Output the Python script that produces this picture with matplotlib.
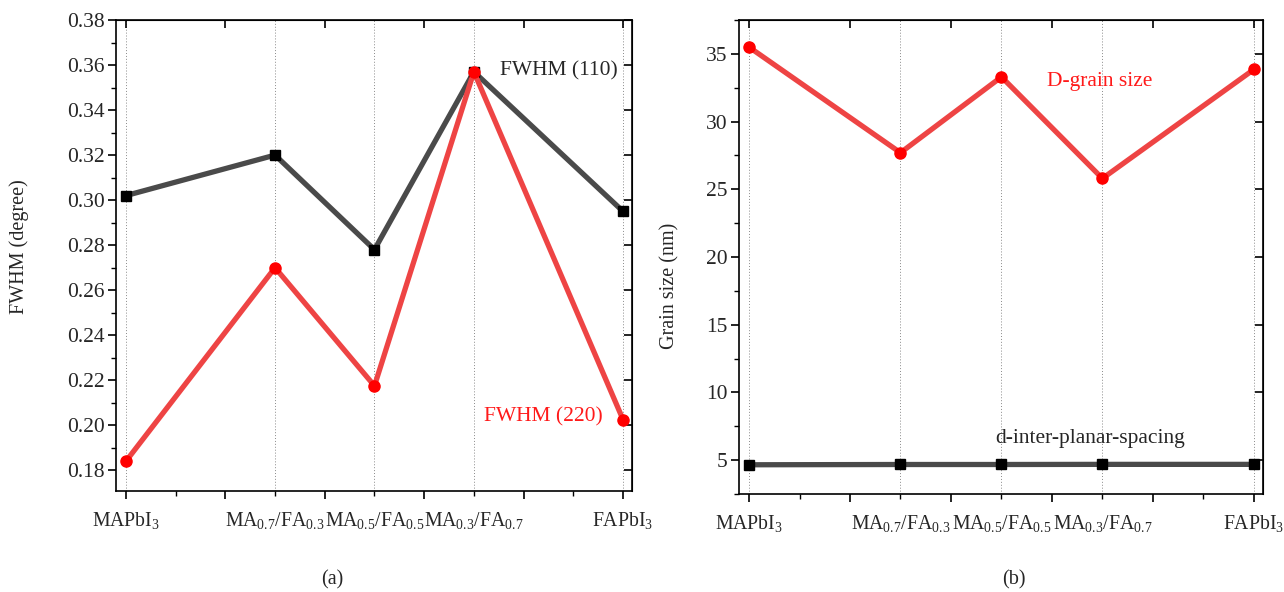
import matplotlib
matplotlib.use("Agg")
import matplotlib.pyplot as plt
from matplotlib.ticker import MultipleLocator

plt.rcParams["font.family"] = ["Liberation Serif", "DejaVu Serif"]
plt.rcParams["mathtext.default"] = "regular"

# composition positions (spacing follows MA fraction 1.0 -> 0.0)
x_pos = [0, 1.5, 2.5, 3.5, 5]
labels = ["MAPbI$_3$", "MA$_{0.7}$/FA$_{0.3}$", "MA$_{0.5}$/FA$_{0.5}$",
          "MA$_{0.3}$/FA$_{0.7}$", "FAPbI$_3$"]

fwhm_110 = [0.302, 0.320, 0.278, 0.357, 0.295]
fwhm_220 = [0.184, 0.270, 0.2175, 0.357, 0.2025]

grain_size = [35.5, 27.7, 33.3, 25.8, 33.85]
d_spacing = [4.66, 4.68, 4.68, 4.69, 4.69]

dark = "#4a4a4a"
red = "#ee4444"
txt = "#262626"

fig = plt.figure(figsize=(12.84, 5.92), dpi=100)
ax1 = fig.add_axes([0.0903, 0.1706, 0.4019, 0.7956])
ax2 = fig.add_axes([0.5755, 0.1655, 0.4081, 0.8007])


def style(ax):
    ax.set_xlim(-0.1, 5.09)
    for s in ax.spines.values():
        s.set_linewidth(1.2)
    ax.xaxis.set_major_locator(MultipleLocator(1))
    ax.xaxis.set_minor_locator(MultipleLocator(0.5))
    ax.tick_params(axis="x", which="both", labelbottom=False, direction="out")
    ax.tick_params(axis="y", which="both", direction="out", labelsize=15.5,
                   labelcolor=txt, pad=2)
    ax.tick_params(which="major", length=6, width=1.2)
    ax.tick_params(which="minor", length=3.5, width=1.0)
    # mirrored ticks pointing inward on top and right
    top = ax.secondary_xaxis("top")
    top.xaxis.set_major_locator(MultipleLocator(1))
    top.xaxis.set_minor_locator(MultipleLocator(0.5))
    top.tick_params(which="both", direction="in", labeltop=False)
    top.tick_params(which="major", length=6, width=1.2)
    top.tick_params(which="minor", length=0)
    right = ax.secondary_yaxis("right")
    right.yaxis.set_major_locator(ax.yaxis.get_major_locator())
    right.tick_params(which="both", direction="in", labelright=False)
    right.tick_params(which="major", length=6, width=1.2)
    right.tick_params(which="minor", length=0)
    for xv in x_pos:
        ax.axvline(xv, color="#8a8a8a", lw=0.7, ls=(0, (1, 2)), zorder=0)
    for xv, lab in zip(x_pos, labels):
        ax.text(xv, -0.04, lab, transform=ax.get_xaxis_transform(),
                ha="center", va="top", fontsize=14.2, color=txt)


# (a) FWHM
ax1.plot(x_pos, fwhm_110, color=dark, lw=3.8, marker="s", ms=7,
         mfc="black", mec="black", zorder=3)
ax1.plot(x_pos, fwhm_220, color=red, lw=3.8, marker="o", ms=8,
         mfc="#ff0000", mec="#ff0000", zorder=4)
ax1.set_ylim(0.1708, 0.38)
ax1.yaxis.set_major_locator(MultipleLocator(0.02))
ax1.yaxis.set_minor_locator(MultipleLocator(0.01))
ax1.yaxis.set_major_formatter(matplotlib.ticker.FormatStrFormatter("%.2f"))
style(ax1)
ax1.set_ylabel("FWHM (degree)", fontsize=14.5, color=txt)
ax1.yaxis.set_label_coords(-0.168, 0.518)
ax1.text(3.76, 0.3573, "FWHM (110)", fontsize=15.5, color=txt, va="center")
ax1.text(4.8, 0.2036, "FWHM (220)", fontsize=15.5, color="#ff1a1a",
         va="center", ha="right")

# (b) grain size
ax2.plot(x_pos, d_spacing, color=dark, lw=3.8, marker="s", ms=7,
         mfc="black", mec="black", zorder=3)
ax2.plot(x_pos, grain_size, color=red, lw=3.8, marker="o", ms=8,
         mfc="#ff0000", mec="#ff0000", zorder=4)
ax2.set_ylim(2.5, 37.5)
ax2.yaxis.set_major_locator(MultipleLocator(5))
ax2.yaxis.set_minor_locator(MultipleLocator(2.5))
style(ax2)
ax2.set_ylabel("Grain size (nm)", fontsize=14.5, color=txt)
ax2.yaxis.set_label_coords(-0.113, 0.44)
ax2.text(2.95, 32.95, "D-grain size", fontsize=15.5, color="#ff1a1a",
         va="center")
ax2.text(2.44, 6.62, "d-inter-planar-spacing", fontsize=15.5, color=txt,
         va="center")

fig.text(0.259, 0.012, "(a)", fontsize=14.5, color=txt, ha="center")
fig.text(0.790, 0.012, "(b)", fontsize=14.5, color=txt, ha="center")

fig.savefig("out.png", dpi=100)
